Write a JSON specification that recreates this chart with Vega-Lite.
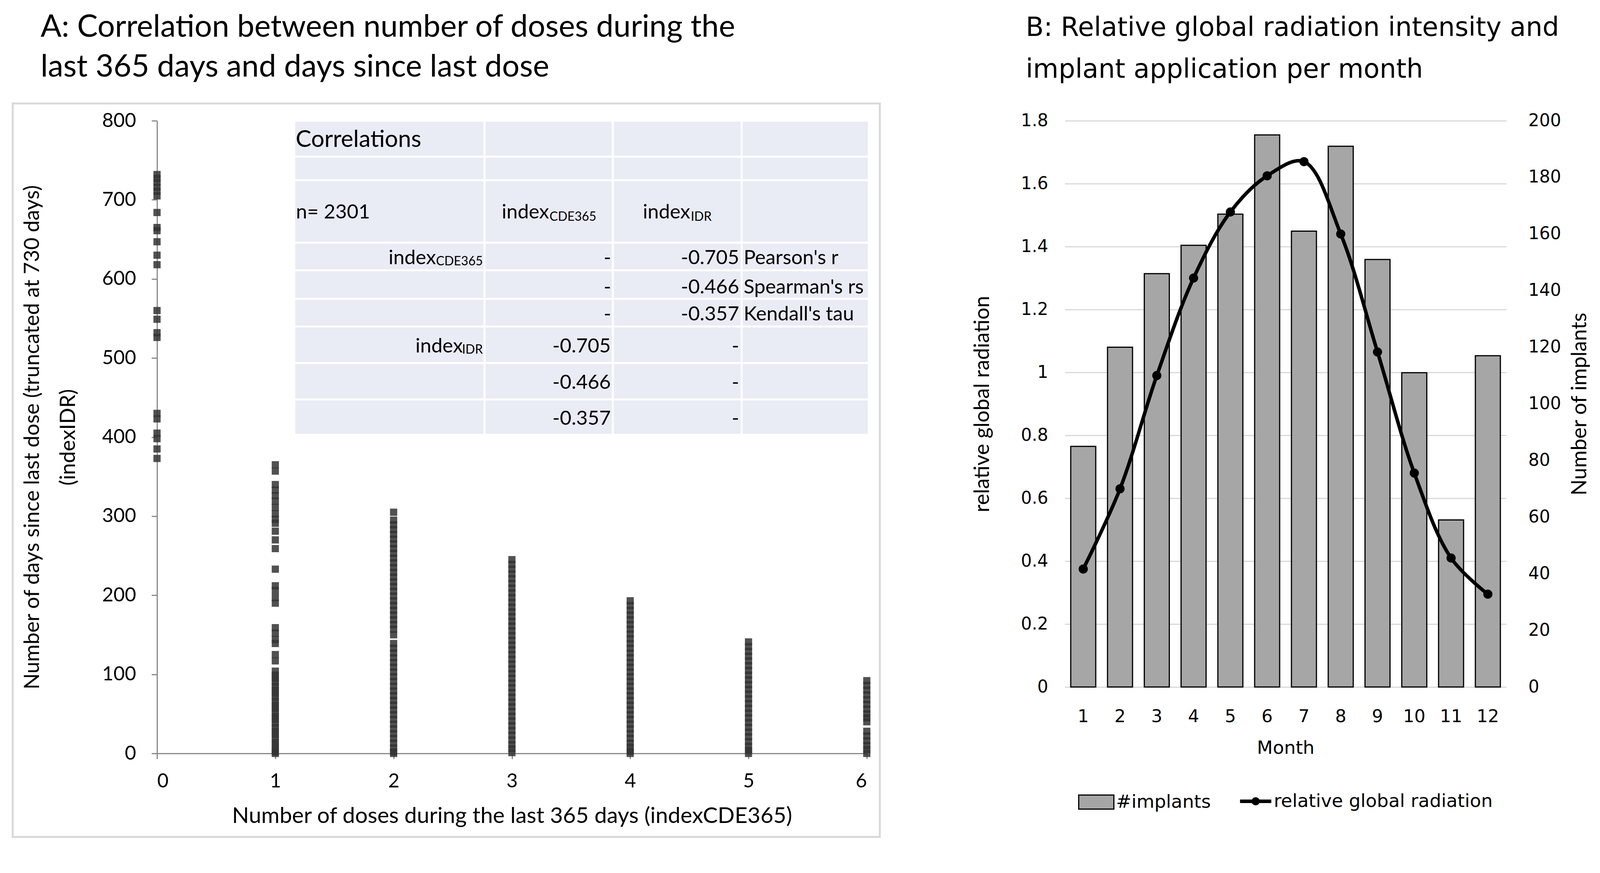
{
  "$schema": "https://vega.github.io/schema/vega-lite/v6.json",
  "background": "white",
  "padding": {"left": 30, "top": 31, "right": 0, "bottom": 0},
  "bounds": "flush",
  "config": {
    "view": {"stroke": null},
    "font": "Lato",
    "axis": {"labelColor": "black", "titleColor": "black", "titleFontWeight": "normal"},
    "legend": {"layout": {"bottom": {"anchor": "middle", "direction": "horizontal", "margin": 70}}}
  },
  "resolve": {
    "scale": {"fill": "independent", "stroke": "independent"},
    "legend": {"fill": "independent", "stroke": "independent"}
  },
  "datasets": {
    "scatter": [
      {"dose": 0, "days": [732,727,722,716,711,705,684,665,661,647,630,618,560,549,532,526,430,423,405,398,385,373]},
      {"dose": 1, "days": [365,357,340,333,326,319,311,303,296,291,281,270,259,233,212,206,197,190,159,152,144,139,125,117,104,99,95,90,85,80,76,71,66,61,57,52,47,43,38,33,28,24,19,14,10,5,2,0]},
      {"dose": 2, "days": [305,295,289,283,277,271,265,259,253,247,241,235,229,223,217,211,205,199,193,187,181,175,169,163,157,150,139,133,127,121,115,109,103,97,91,85,79,73,67,61,55,49,43,37,31,25,19,13,7,2,0]},
      {"dose": 3, "days": [245,239,233,227,221,215,209,203,197,191,185,179,173,167,161,155,149,143,137,131,125,119,113,107,101,95,89,83,77,71,65,59,53,47,41,35,29,23,17,11,6,1]},
      {"dose": 4, "days": [193,187,181,175,169,163,157,151,145,139,133,127,121,115,109,103,97,91,85,79,73,67,61,55,49,43,37,31,25,19,13,8,3,0]},
      {"dose": 5, "days": [141,135,129,123,117,111,105,99,93,87,81,75,69,63,57,51,45,39,33,27,21,15,9,4,0]},
      {"dose": 6, "days": [92,86,80,74,68,62,56,50,45,40,28,22,16,10,5,0]}
    ],
    "tableRows": [
      {"r": 1, "y1": 754.6, "y2": 800},
      {"r": 2, "y1": 724.8, "y2": 754.6},
      {"r": 3, "y1": 645.8, "y2": 724.8},
      {"r": 4, "y1": 610.9, "y2": 645.8},
      {"r": 5, "y1": 574.8, "y2": 610.9},
      {"r": 6, "y1": 539.8, "y2": 574.8},
      {"r": 7, "y1": 493.6, "y2": 539.8},
      {"r": 8, "y1": 447.6, "y2": 493.6},
      {"r": 9, "y1": 403, "y2": 447.6}
    ],
    "tableCols": [
      {"c": 1, "x": 2.768},
      {"c": 2, "x": 3.853},
      {"c": 3, "x": 4.942}
    ],
    "cells": [
      {"t": "n= 2301", "x": 1.175, "y": 683.8, "s": "L"},
      {"t": "index", "x": 2.914, "y": 683.8, "s": "L"},
      {"t": "index", "x": 4.107, "y": 683.8, "s": "L"},
      {"t": "Pearson's r", "x": 4.959, "y": 626.0, "s": "L"},
      {"t": "Spearman's rs", "x": 4.959, "y": 588.8, "s": "L"},
      {"t": "Kendall's tau", "x": 4.959, "y": 555.0, "s": "L"},
      {"t": "index", "x": 2.358, "y": 626.0, "s": "R"},
      {"t": "-", "x": 3.839, "y": 626.0, "s": "R"},
      {"t": "-0.705", "x": 4.921, "y": 626.0, "s": "R"},
      {"t": "-", "x": 3.839, "y": 588.8, "s": "R"},
      {"t": "-0.466", "x": 4.921, "y": 588.8, "s": "R"},
      {"t": "-", "x": 3.839, "y": 555.0, "s": "R"},
      {"t": "-0.357", "x": 4.921, "y": 555.0, "s": "R"},
      {"t": "index", "x": 2.585, "y": 514.5, "s": "R"},
      {"t": "-0.705", "x": 3.836, "y": 514.5, "s": "R"},
      {"t": "-", "x": 4.921, "y": 514.5, "s": "R"},
      {"t": "-0.466", "x": 3.836, "y": 468.5, "s": "R"},
      {"t": "-", "x": 4.921, "y": 468.5, "s": "R"},
      {"t": "-0.357", "x": 3.836, "y": 422.8, "s": "R"},
      {"t": "-", "x": 4.921, "y": 422.8, "s": "R"}
    ],
    "subs": [
      {"t": "CDE365", "x": 3.318, "y": 678.3, "s": "L"},
      {"t": "IDR", "x": 4.512, "y": 678.3, "s": "L"},
      {"t": "CDE365", "x": 2.754, "y": 621.9, "s": "R"},
      {"t": "IDR", "x": 2.754, "y": 510.4, "s": "R"}
    ],
    "heading": [
      {"t": "Correlations", "x": 1.172, "y": 776.0}
    ],
    "months": [
      {"month": 1, "implants": 85, "radiation": 0.375},
      {"month": 2, "implants": 120, "radiation": 0.63},
      {"month": 3, "implants": 146, "radiation": 0.99},
      {"month": 4, "implants": 156, "radiation": 1.30},
      {"month": 5, "implants": 167, "radiation": 1.51},
      {"month": 6, "implants": 195, "radiation": 1.625},
      {"month": 7, "implants": 161, "radiation": 1.67},
      {"month": 8, "implants": 191, "radiation": 1.44},
      {"month": 9, "implants": 151, "radiation": 1.065},
      {"month": 10, "implants": 111, "radiation": 0.68},
      {"month": 11, "implants": 59, "radiation": 0.41},
      {"month": 12, "implants": 117, "radiation": 0.295}
    ]
  },
  "spacing": 507,
  "hconcat": [
    {
      "width": 1817,
      "height": 1619,
      "title": {
        "text": ["A: Correlation between number of doses during the", "last 365 days and days since last dose"],
        "anchor": "start", "frame": "group", "dx": -298, "offset": 49,
        "font": "Lato", "fontSize": 79, "fontWeight": "normal", "lineHeight": 102, "color": "black"
      },
      "layer": [
        {
          "data": {"values": [{}]},
          "mark": {"type": "rect", "filled": false, "stroke": "#d9d9d9", "strokeWidth": 5},
          "encoding": {
            "x": {"datum": -1.22, "type": "quantitative"},
            "x2": {"datum": 6.11},
            "y": {"datum": 821.9, "type": "quantitative"},
            "y2": {"datum": -105.6}
          }
        },
        {
          "data": {"name": "scatter"},
          "transform": [{"flatten": ["days"]}],
          "mark": {"type": "square", "size": 340, "color": "#333333", "opacity": 0.85, "filled": true},
          "encoding": {
            "x": {
              "field": "dose", "type": "quantitative",
              "scale": {"domain": [0, 6], "nice": false, "zero": false},
              "axis": {
                "title": "Number of doses during the last 365 days (indexCDE365)",
                "values": [0, 1, 2, 3, 4, 5, 6], "format": "d", "grid": false,
                "domainColor": "#8a8a8a", "domainWidth": 3,
                "tickColor": "#8a8a8a", "tickWidth": 3, "tickSize": 14,
                "labelFont": "Lato", "labelFontSize": 50, "labelPadding": 32,
                "titleFont": "Lato", "titleFontSize": 57, "titlePadding": 36
              }
            },
            "y": {
              "field": "days", "type": "quantitative",
              "scale": {"domain": [0, 800], "nice": false},
              "axis": {
                "title": ["Number of days since last dose (truncated at 730 days)", "(indexIDR)"],
                "titleLineHeight": 92,
                "values": [0, 100, 200, 300, 400, 500, 600, 700, 800], "grid": false,
                "domainColor": "#8a8a8a", "domainWidth": 3,
                "tickColor": "#8a8a8a", "tickWidth": 3, "tickSize": 14,
                "labelFont": "Lato", "labelFontSize": 50, "labelPadding": 40,
                "titleFont": "Lato", "titleFontSize": 54, "titlePadding": 58
              }
            }
          }
        },
        {
          "data": {"name": "tableRows"},
          "mark": {"type": "rect", "fill": "#e9ebf5", "stroke": "white", "strokeWidth": 5},
          "encoding": {
            "x": {"datum": 1.16, "type": "quantitative"},
            "x2": {"datum": 6.017},
            "y": {"field": "y1", "type": "quantitative"},
            "y2": {"field": "y2"}
          }
        },
        {
          "data": {"name": "tableCols"},
          "mark": {"type": "rule", "stroke": "white", "strokeWidth": 5},
          "encoding": {
            "x": {"field": "x", "type": "quantitative"},
            "y": {"datum": 403, "type": "quantitative"},
            "y2": {"datum": 800}
          }
        },
        {
          "data": {"name": "heading"},
          "mark": {"type": "text", "align": "left", "baseline": "middle", "font": "Lato", "fontSize": 60, "color": "black"},
          "encoding": {
            "x": {"field": "x", "type": "quantitative"},
            "y": {"field": "y", "type": "quantitative"},
            "text": {"field": "t"}
          }
        },
        {
          "data": {"name": "cells"},
          "transform": [{"filter": "datum.s === 'L'"}],
          "mark": {"type": "text", "align": "left", "baseline": "middle", "font": "Lato", "fontSize": 51, "color": "black"},
          "encoding": {
            "x": {"field": "x", "type": "quantitative"},
            "y": {"field": "y", "type": "quantitative"},
            "text": {"field": "t"}
          }
        },
        {
          "data": {"name": "cells"},
          "transform": [{"filter": "datum.s === 'R'"}],
          "mark": {"type": "text", "align": "right", "baseline": "middle", "font": "Lato", "fontSize": 51, "color": "black"},
          "encoding": {
            "x": {"field": "x", "type": "quantitative"},
            "y": {"field": "y", "type": "quantitative"},
            "text": {"field": "t"}
          }
        },
        {
          "data": {"name": "subs"},
          "transform": [{"filter": "datum.s === 'L'"}],
          "mark": {"type": "text", "align": "left", "baseline": "middle", "font": "Lato", "fontSize": 32, "color": "black"},
          "encoding": {
            "x": {"field": "x", "type": "quantitative"},
            "y": {"field": "y", "type": "quantitative"},
            "text": {"field": "t"}
          }
        },
        {
          "data": {"name": "subs"},
          "transform": [{"filter": "datum.s === 'R'"}],
          "mark": {"type": "text", "align": "right", "baseline": "middle", "font": "Lato", "fontSize": 32, "color": "black"},
          "encoding": {
            "x": {"field": "x", "type": "quantitative"},
            "y": {"field": "y", "type": "quantitative"},
            "text": {"field": "t"}
          }
        }
      ]
    },
    {
      "width": 1130,
      "height": 1449,
      "title": {
        "text": ["B: Relative global radiation intensity and", "implant application per month"],
        "anchor": "start", "frame": "group", "dx": -100, "offset": 74,
        "font": "DejaVu Sans", "fontSize": 67, "fontWeight": "normal", "lineHeight": 107, "color": "black"
      },
      "data": {"name": "months"},
      "encoding": {
        "x": {
          "field": "month", "type": "ordinal",
          "scale": {"paddingInner": 0.32, "paddingOuter": 0.16},
          "axis": {
            "title": "Month", "labelAngle": 0,
            "titleFont": "DejaVu Sans", "titleFontSize": 47, "titlePadding": 35,
            "labelFont": "DejaVu Sans", "labelFontSize": 45, "labelPadding": 53,
            "ticks": false, "tickSize": 0,
            "domainColor": "#d9d9d9", "domainWidth": 3
          }
        }
      },
      "layer": [
        {
          "mark": {"type": "bar", "stroke": "black", "strokeWidth": 3},
          "encoding": {
            "y": {
              "field": "implants", "type": "quantitative",
              "scale": {"domain": [0, 200], "nice": false},
              "axis": {
                "orient": "right", "title": "Number of implants",
                "titleAngle": 270, "titleBaseline": "top",
                "values": [0, 20, 40, 60, 80, 100, 120, 140, 160, 180, 200],
                "grid": false, "domain": false, "ticks": false, "tickSize": 0,
                "labelFont": "DejaVu Sans", "labelFontSize": 44, "labelPadding": 56,
                "titleFont": "Lato", "titleFontSize": 54, "titlePadding": 22
              }
            },
            "fill": {
              "datum": "#implants", "type": "nominal",
              "scale": {"range": ["#a6a6a6"]},
              "legend": {
                "title": null, "orient": "bottom", "direction": "horizontal",
                "labelFont": "DejaVu Sans", "labelFontSize": 47, "labelColor": "black",
                "labelLimit": 2000, "symbolType": "M-1,-0.4H1V0.4H-1Z", "symbolSize": 8100,
                "symbolStrokeColor": "black", "symbolStrokeWidth": 3, "symbolOpacity": 1,
                "labelOffset": 4, "offset": 69
              }
            }
          }
        },
        {
          "encoding": {
            "y": {
              "field": "radiation", "type": "quantitative",
              "scale": {"domain": [0, 1.8], "nice": false},
              "axis": {
                "orient": "left", "title": "relative global radiation",
                "values": [0, 0.2, 0.4, 0.6, 0.8, 1, 1.2, 1.4, 1.6, 1.8], "format": "~g",
                "grid": true, "gridColor": "#d9d9d9", "gridWidth": 3,
                "domain": false, "ticks": false, "tickSize": 0,
                "labelFont": "DejaVu Sans", "labelFontSize": 44, "labelPadding": 43,
                "titleFont": "Lato", "titleFontSize": 54, "titlePadding": 71
              }
            }
          },
          "layer": [
            {
              "mark": {"type": "line", "interpolate": "catmull-rom", "strokeWidth": 9},
              "encoding": {
                "stroke": {
                  "datum": "relative global radiation", "type": "nominal",
                  "scale": {"range": ["black"]},
                  "legend": {
                    "title": null, "orient": "bottom", "direction": "horizontal",
                    "labelFont": "DejaVu Sans", "labelFontSize": 47, "labelColor": "black",
                    "labelLimit": 2000,
                    "symbolType": "M-1,0H1M-0.15,0A0.15,0.15 0 1,0 0.15,0A0.15,0.15 0 1,0 -0.15,0",
                    "symbolSize": 6400, "symbolStrokeWidth": 9, "symbolOpacity": 1,
                    "labelOffset": 2, "offset": 69
                  }
                }
              }
            },
            {"mark": {"type": "point", "filled": true, "color": "black", "size": 550, "opacity": 1}}
          ]
        }
      ],
      "resolve": {"scale": {"y": "independent"}}
    }
  ]
}
